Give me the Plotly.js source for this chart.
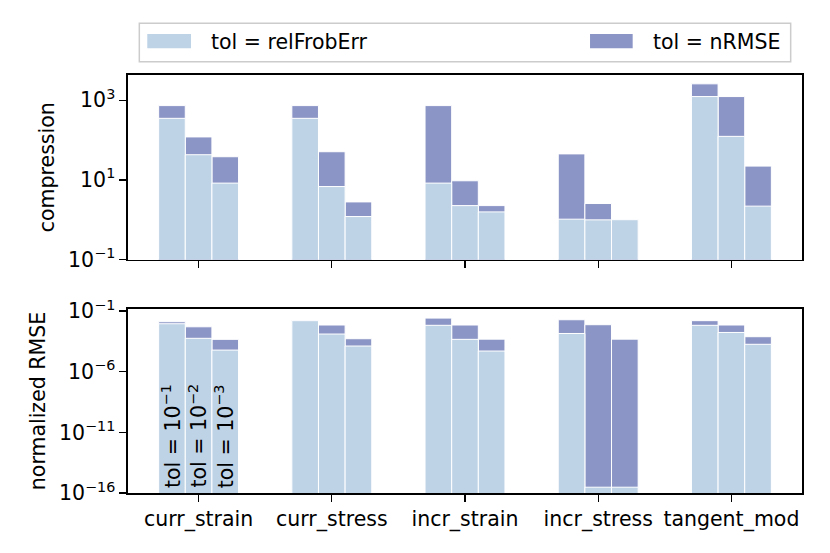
<!DOCTYPE html>
<html>
<head>
<meta charset="utf-8">
<script src="https://cdn.plot.ly/plotly-3.0.1.min.js"></script>
<style>
  body { margin: 0; background: #fff; }
  #chart { width: 830px; height: 553px; }
</style>
</head>
<body>
<div id="chart"></div>
<script>
  // fields on the x axis
  const categories = ["curr_strain", "curr_stress", "incr_strain", "incr_stress", "tangent_mod"];
  const tolLabels = ["10<sup>−1</sup>", "10<sup>−2</sup>", "10<sup>−3</sup>"];
  const tolOffsets = [-0.2, 0, 0.2];

  // compression ratio, one array per tolerance (across categories)
  const compRelFrob = [
    [352, 352, 8.3, 1.03, 1240],
    [42.9, 6.8, 2.26, 0.99, 124],
    [8.3, 1.2, 1.57, 1.0, 2.19]
  ];
  const compNRMSE = [
    [735, 735, 735, 45, 2590],
    [120, 51, 9.5, 2.55, 1240],
    [38.2, 2.8, 2.26, 1.0, 22.2]
  ];

  // normalized RMSE, one array per tolerance
  const rmseRelFrob = [
    [8.9e-3, 1.6e-2, 6.6e-3, 1.4e-3, 6.6e-3],
    [5.6e-4, 1.26e-3, 4.6e-4, 3e-16, 1.7e-3],
    [6e-5, 1.3e-4, 5e-5, 3e-16, 1.8e-4]
  ];
  const rmseNRMSE = [
    [1.3e-2, 1.75e-2, 2.6e-2, 1.9e-2, 1.6e-2],
    [5e-3, 7e-3, 7e-3, 7.4e-3, 7e-3],
    [4.6e-4, 5.2e-4, 4.8e-4, 4.8e-4, 7.6e-4]
  ];

  const lightColor = "#bfd3e6";
  const darkColor = "#8c96c6";
  const barWidth = 0.2;
  const fontFam = "DejaVu Sans, sans-serif";
  const fs = 20.5;

  function bar(vals, j, color, xa, ya) {
    return {
      type: "bar",
      x: categories,
      y: vals,
      xaxis: xa,
      yaxis: ya,
      width: barWidth,
      offset: tolOffsets[j] - barWidth / 2,
      marker: { color: color, line: { color: "white", width: 1 } },
      showlegend: false,
      hoverinfo: "skip"
    };
  }

  var data = [];
  // nRMSE bars go behind, relFrobErr in front
  for (let j = 0; j < 3; j++) data.push(bar(compNRMSE[j], j, darkColor, "x", "y"));
  for (let j = 0; j < 3; j++) data.push(bar(compRelFrob[j], j, lightColor, "x", "y"));
  for (let j = 0; j < 3; j++) data.push(bar(rmseNRMSE[j], j, darkColor, "x2", "y2"));
  for (let j = 0; j < 3; j++) data.push(bar(rmseRelFrob[j], j, lightColor, "x2", "y2"));

  const axisCommon = {
    showline: true,
    mirror: true,
    linecolor: "black",
    linewidth: 1.6,
    ticks: "outside",
    ticklen: 7,
    tickwidth: 1.3,
    tickcolor: "black",
    showgrid: false,
    zeroline: false,
    tickfont: { family: fontFam, size: fs, color: "black" }
  };

  var annotations = tolLabels.map(function (t, j) {
    return {
      xref: "x2", yref: "y2",
      x: tolOffsets[j], y: -16,
      text: "tol = " + t,
      textangle: -90,
      showarrow: false,
      xanchor: "center", yanchor: "bottom",
      yshift: 3,
      font: { family: fontFam, size: fs, color: "black" }
    };
  });

  // hand-made legend (wide patches like the original)
  annotations.push(
    { xref: "paper", yref: "paper", x: 0.1202, y: 1.0787, text: "tol = relFrobErr", showarrow: false,
      xanchor: "left", yanchor: "middle", font: { family: fontFam, size: fs, color: "black" } },
    { xref: "paper", yref: "paper", x: 0.7755, y: 1.0787, text: "tol = nRMSE", showarrow: false,
      xanchor: "left", yanchor: "middle", font: { family: fontFam, size: fs, color: "black" } }
  );

  var shapes = [
    { type: "rect", xref: "paper", yref: "paper", x0: 0.0168, x1: 0.9832, y0: 1.0318, y1: 1.1237,
      line: { color: "#cccccc", width: 1.5 }, fillcolor: "white" },
    { type: "rect", xref: "paper", yref: "paper", x0: 0.0286, x1: 0.0935, y0: 1.0639, y1: 1.098,
      line: { width: 0 }, fillcolor: lightColor },
    { type: "rect", xref: "paper", yref: "paper", x0: 0.6855, x1: 0.7488, y0: 1.0639, y1: 1.098,
      line: { width: 0 }, fillcolor: darkColor }
  ];

  var layout = {
    width: 830,
    height: 553,
    margin: { l: 128, r: 28, t: 75, b: 60 },
    paper_bgcolor: "white",
    plot_bgcolor: "white",
    barmode: "overlay",
    showlegend: false,
    font: { family: fontFam, size: fs, color: "black" },
    xaxis: Object.assign({}, axisCommon, {
      domain: [0, 1], anchor: "y", type: "category",
      range: [-0.53, 4.53], showticklabels: false
    }),
    xaxis2: Object.assign({}, axisCommon, {
      domain: [0, 1], anchor: "y2", type: "category",
      range: [-0.53, 4.53]
    }),
    yaxis: Object.assign({}, axisCommon, {
      domain: [0.5586, 1], anchor: "x", type: "log",
      range: [-1, 3.635],
      tickvals: [0.1, 10, 1000],
      ticktext: ["10<sup>−1</sup>", "10<sup>1</sup>", "10<sup>3</sup>"],
      title: { text: "compression", standoff: 8, font: { family: fontFam, size: fs, color: "black" } }
    }),
    yaxis2: Object.assign({}, axisCommon, {
      domain: [0, 0.4402], anchor: "x2", type: "log",
      range: [-16, -0.835],
      tickvals: [1e-1, 1e-6, 1e-11, 1e-16],
      ticktext: ["10<sup>−1</sup>", "10<sup>−6</sup>", "10<sup>−11</sup>", "10<sup>−16</sup>"],
      title: { text: "normalized RMSE", standoff: 8, font: { family: fontFam, size: fs, color: "black" } }
    }),
    annotations: annotations,
    shapes: shapes
  };

  Plotly.newPlot("chart", data, layout, { displayModeBar: false, staticPlot: true });
</script>
</body>
</html>
